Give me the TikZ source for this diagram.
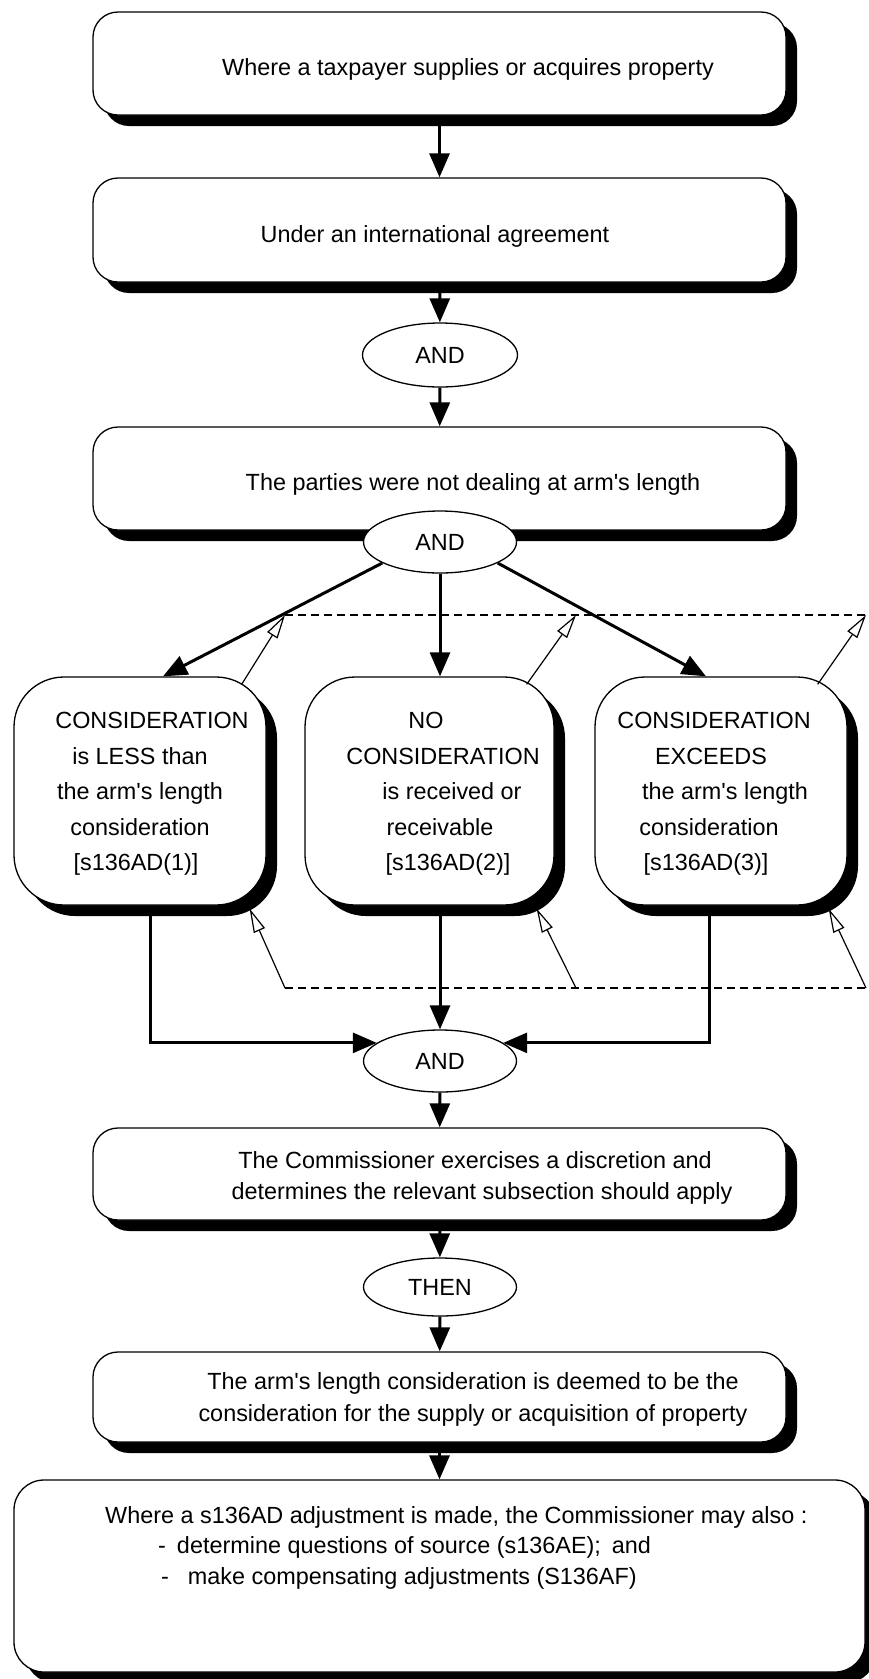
\documentclass[tikz,border=0pt]{standalone}
\usepackage{fontspec}
\setmainfont{Liberation Sans}
\usetikzlibrary{shapes.geometric,arrows.meta,shadows,calc}
\newcommand{\myap}{\textquotesingle}
\begin{document}
\begin{tikzpicture}[x=1pt,y=-1pt,
  fbox/.style={draw,line width=1.3pt,fill=white,rounded corners=25pt,minimum width=693pt,inner sep=0pt,
     drop shadow={shadow xshift=11pt,shadow yshift=-11pt,opacity=1,fill=black}},
  sbox/.style={fbox,rounded corners=50pt,minimum width=252pt,minimum height=228pt},
  ovalnode/.style={ellipse,draw,line width=1.3pt,fill=white,minimum width=153pt,minimum height=62pt,inner sep=0pt,
     font=\fontsize{23.4pt}{28pt}\selectfont},
  txtnode/.style={inner sep=0pt,font=\fontsize{23.4pt}{35.5pt}\selectfont,align=center},
  flowarrow/.style={line width=3pt,-{Triangle[length=24pt,width=20pt]}},
  backarrow/.style={line width=1.2pt,-{Triangle[open,length=24pt,width=12pt,fill=white]}},
  dashline/.style={line width=1.2pt,dash pattern=on 8pt off 5pt}
]
\useasboundingbox (0,0) rectangle (868,1679);

% main boxes
\node[fbox,minimum height=103pt] (b1) at (439.5,63.5) {};
\node[fbox,minimum height=104pt] (b2) at (439.5,230) {};
\node[ovalnode,minimum height=64pt,minimum width=155pt] (and1) at (440,355) {AND};
\node[fbox,minimum height=103pt] (b3) at (439.5,478.5) {};
\node[ovalnode] (and2) at (440,542) {AND};

\node[sbox] (c1) at (140,791) {};
\node[sbox,minimum width=249pt] (c2) at (429.5,791) {};
\node[sbox] (c3) at (721,791) {};

\node[ovalnode] (and3) at (440,1061) {AND};
\node[fbox,minimum height=92pt] (b7) at (439.5,1174) {};
\node[ovalnode,minimum height=58pt] (then) at (440,1287) {THEN};
\node[fbox,minimum height=90pt] (b8) at (439.5,1397) {};
\node[fbox,minimum height=192pt,minimum width=851pt,rounded corners=30pt] (b9) at (439.5,1576) {};

% texts
\node[txtnode] (t1) at (468,69) {Where a taxpayer supplies or acquires property};
\node[txtnode] (t2) at (435,236) {Under an international agreement};
\node[txtnode] (t3) at (473,484) {The parties were not dealing at arm\myap s length};

\node[txtnode] (tc1) at (140,794) {\hspace*{24pt}CONSIDERATION\\ is LESS than\\ the arm\myap s length\\ consideration\\ \hspace*{-8pt}[s136AD(1)]};
\node[txtnode] (tc2) at (440,794) {\hspace*{-28pt}NO\\ \hspace*{6pt}CONSIDERATION\\ \hspace*{24pt}is received or\\ receivable\\ \hspace*{16pt}[s136AD(2)]};
\node[txtnode] (tc3) at (714,794) {CONSIDERATION\\ \hspace*{-6pt}EXCEEDS\\ \hspace*{22pt}the arm\myap s length\\ \hspace*{-10pt}consideration\\ \hspace*{-16pt}[s136AD(3)]};

\node[txtnode,font=\fontsize{23.4pt}{31pt}\selectfont] (t7) at (482,1178) {\hspace*{-14pt}The Commissioner exercises a discretion and\\ determines the relevant subsection should apply};
\node[txtnode,font=\fontsize{23.4pt}{32pt}\selectfont] (t8) at (473,1399) {The arm\myap s length consideration is deemed to be the\\ consideration for the supply or acquisition of property};

\node[txtnode,anchor=base west] (t9a) at (105,1523) {Where a s136AD adjustment is made, the Commissioner may also :};
\node[txtnode,anchor=base west] (t9b) at (158,1553) {-\hspace{11pt}determine questions of source (s136AE);\hspace{11pt}and};
\node[txtnode,anchor=base west] (t9c) at (161,1584) {-\hspace{19pt}make compensating adjustments (S136AF)};

% flow connectors
\draw[flowarrow] (b1) -- (b2);
\draw[flowarrow] (b2) -- (and1);
\draw[flowarrow] (and1) -- (b3);
\draw[flowarrow] (and2.200) -- ($(c1.north)+(23,0)$);
\draw[flowarrow] (and2.south) -- (and2.south |- c2.north);
\draw[flowarrow] (and2.-20) -- ($(c3.north)+(-15,0)$);

\draw[flowarrow] ($(c1.south)+(10,0)$) |- (and3.164);
\draw[flowarrow] (c2.south -| and3.north) -- (and3.north);
\draw[flowarrow] ($(c3.south)+(-12,0)$) |- (and3.16);

\draw[flowarrow] (and3) -- (b7);
\draw[flowarrow] (b7) -- (then);
\draw[flowarrow] (then) -- (b8);
\draw[flowarrow] (b8) -- (b9);

% dashed feedback lines
\coordinate (dt1) at (285,615);
\coordinate (dt2) at (576,615);
\coordinate (dt3) at (866,615);
\coordinate (db1) at (285,988);
\coordinate (db2) at (576,988);
\coordinate (db3) at (866,988);
\draw[dashline] (dt1) -- (868,615);
\draw[dashline] (db1) -- (868,988);

\draw[backarrow] ($(c1.north east)+(-25,8)$) -- (dt1);
\draw[backarrow] ($(c2.north east)+(-28,8)$) -- (dt2);
\draw[backarrow] ($(c3.north east)+(-30,8)$) -- (dt3);

\draw[backarrow] (db1) -- ($(c1.south east)+(-17,3)$);
\draw[backarrow] (db2) -- ($(c2.south east)+(-18,3)$);
\draw[backarrow] (db3) -- ($(c3.south east)+(-19,3)$);
\end{tikzpicture}
\end{document}
